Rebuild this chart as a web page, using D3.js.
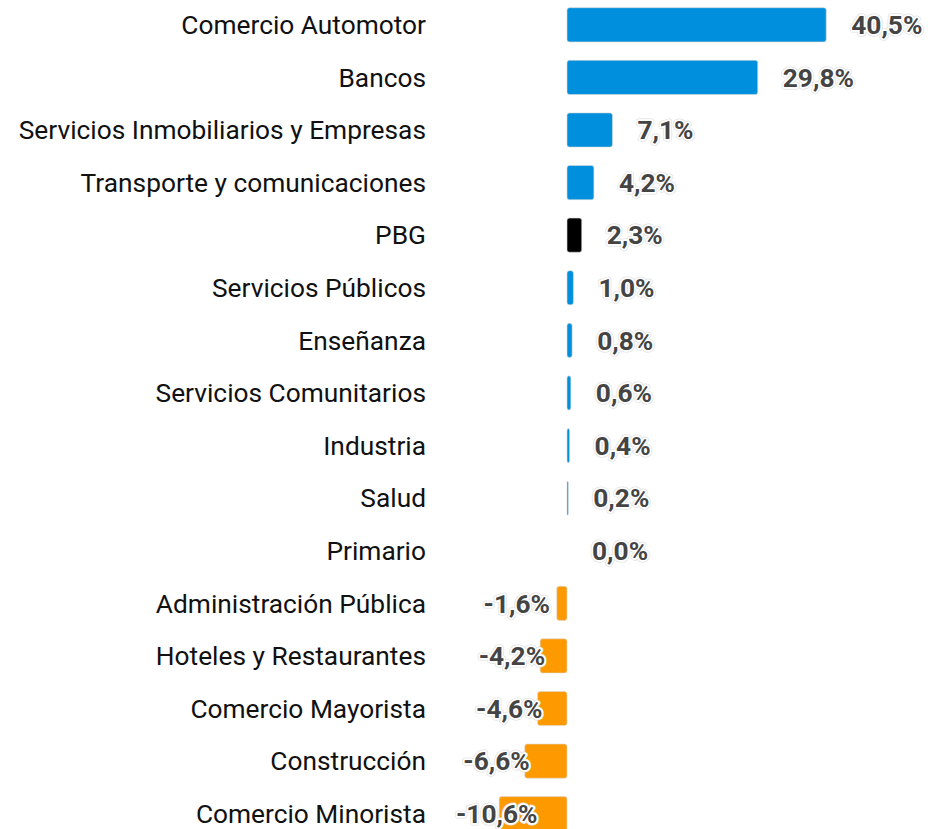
<!DOCTYPE html>
<meta charset="utf-8">
<style>
  body { margin: 0; background: #fff; }
  .cat text { font-family: Roboto, sans-serif; font-size: 26.3px; fill: #111; }
  .vals text { font-family: Roboto, sans-serif; font-size: 26.3px; font-weight: bold; fill: #444; }
</style>
<svg width="928" height="829"></svg>
<script src="https://cdn.jsdelivr.net/npm/d3@7"></script>
<script>
const categories = [
  "Comercio Automotor", "Bancos", "Servicios Inmobiliarios y Empresas",
  "Transporte y comunicaciones", "PBG", "Servicios Públicos", "Enseñanza",
  "Servicios Comunitarios", "Industria", "Salud", "Primario",
  "Administración Pública", "Hoteles y Restaurantes", "Comercio Mayorista",
  "Construcción", "Comercio Minorista"
];
const values = [40.5, 29.8, 7.1, 4.2, 2.3, 1.0, 0.8, 0.6, 0.4, 0.2, 0.0,
  -1.6, -4.2, -4.6, -6.6, -10.6];
const highlight = "PBG";

const svg = d3.select("svg");
const data = categories.map((c, i) => ({ name: c, value: values[i] }));

// plot area: zero at 567, 40.5 -> 826
const x = d3.scaleLinear().domain([-17.5, 56.4]).range([455, 928]);
const y = d3.scaleBand().domain(categories).range([-1.5, 840]).paddingInner(0.35).paddingOuter(0.175);

function barColor(d) {
  if (d.name === highlight) return "#000";
  return d.value < 0 ? "#ff9900" : "#008fdc";
}

// category labels
svg.append("g").attr("class", "cat")
  .selectAll("text").data(data).enter().append("text")
  .attr("x", 426)
  .attr("y", d => y(d.name) + y.bandwidth() / 2)
  .attr("dy", "0.35em")
  .attr("text-anchor", "end")
  .text(d => d.name);

// bars
svg.append("g").selectAll("rect").data(data.filter(d => d.value !== 0)).enter().append("rect")
  .attr("x", d => x(Math.min(0, d.value)))
  .attr("width", d => Math.abs(x(d.value) - x(0)))
  .attr("y", d => y(d.name))
  .attr("height", y.bandwidth())
  .attr("rx", 2.5)
  .attr("fill", barColor)
  .attr("stroke", "#d8d8d8")
  .attr("stroke-width", 0.6);

// value labels
const fmt = v => v.toFixed(1).replace(".", ",") + "%";
const vals = svg.append("g").attr("class", "vals");
const lab = vals.selectAll("g").data(data).enter().append("g");
lab.each(function(d) {
  const g = d3.select(this);
  const yy = y(d.name) + y.bandwidth() / 2;
  const outline = g.append("text").attr("y", yy).attr("dy", "0.35em").text(fmt(d.value))
    .attr("stroke", "#e2e2e2").attr("stroke-width", 5).attr("stroke-linejoin", "round");
  const t = g.append("text").attr("y", yy).attr("dy", "0.35em").text(fmt(d.value))
    .attr("stroke", "#fff").attr("stroke-width", 3.5).attr("stroke-linejoin", "round")
    .style("paint-order", "stroke");
  const w = t.node().getComputedTextLength();
  let left;
  if (d.value >= 0) {
    left = x(d.value) + 25;
  } else {
    // right edge near bar end, justified inside plot area
    left = Math.min(x(d.value) + 5, x(0) - 17) - w;
    left = Math.max(left, x.range()[0] + 1);
  }
  outline.attr("x", left);
  t.attr("x", left);
});
</script>
